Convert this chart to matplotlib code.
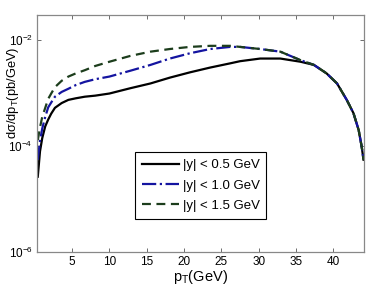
import matplotlib
matplotlib.use('Agg')
import matplotlib.pyplot as plt
import numpy as np
from matplotlib.ticker import FixedLocator, LogFormatterSciNotation, NullLocator

plt.rcParams['font.family'] = ['Liberation Sans', 'DejaVu Sans']
plt.rcParams['mathtext.fontset'] = 'custom'
plt.rcParams['mathtext.rm'] = 'Liberation Sans'
plt.rcParams['mathtext.it'] = 'Liberation Sans:italic'
plt.rcParams['mathtext.default'] = 'regular'

# data (log10 of dsigma/dpT, pb/GeV)
pt = [0.4, 0.7, 1.0, 1.4, 1.8, 2.2, 2.7, 3.6, 4.5, 5.5, 6.7, 8.1, 10.0, 12.8, 15.5,
      18.1, 20.8, 23.5, 26.2, 27.5, 30.2, 32.9, 35.6, 37.4, 39.1, 40.5, 41.8, 42.7,
      43.4, 43.8, 44.05]
log_y05 = [-4.58, -4.10, -3.85, -3.63, -3.50, -3.39, -3.28, -3.19, -3.13, -3.10, -3.07,
           -3.05, -3.01, -2.91, -2.82, -2.71, -2.61, -2.52, -2.44, -2.40, -2.35, -2.35,
           -2.41, -2.47, -2.63, -2.82, -3.13, -3.38, -3.70, -4.01, -4.26]
log_y10 = [-4.26, -3.90, -3.67, -3.45, -3.27, -3.18, -3.07, -2.98, -2.92, -2.85, -2.79,
           -2.74, -2.69, -2.58, -2.47, -2.35, -2.25, -2.17, -2.13, -2.13, -2.17, -2.22,
           -2.38, -2.47, -2.63, -2.82, -3.13, -3.38, -3.70, -4.01, -4.26]
log_y15 = [-3.89, -3.65, -3.45, -3.28, -3.11, -3.01, -2.89, -2.77, -2.69, -2.63, -2.57,
           -2.49, -2.41, -2.30, -2.22, -2.17, -2.13, -2.11, -2.11, -2.13, -2.17, -2.22,
           -2.38, -2.47, -2.63, -2.82, -3.13, -3.38, -3.70, -4.01, -4.26]

labels = ['|y| < 0.5 GeV', '|y| < 1.0 GeV', '|y| < 1.5 GeV']
xticks = [5, 10, 15, 20, 25, 30, 35, 40]
yticks = [1e-6, 1e-4, 1e-2]

fig = plt.figure(figsize=(3.74, 2.94), dpi=100)
ax = fig.add_axes([0.099, 0.143, 0.874, 0.806])

ax.plot(pt, 10**np.array(log_y05), color='black', lw=1.6, ls='-', label=labels[0])
ax.plot(pt, 10**np.array(log_y10), color='#1414a0', lw=1.6, ls='-.', label=labels[1])
ax.plot(pt, 10**np.array(log_y15), color='#1c3d1c', lw=1.6, ls=(0, (4, 2.5)), label=labels[2])

ax.set_yscale('log')
ax.set_xlim(0.3, 44.1)
ax.set_ylim(1e-6, 10**-1.528)
ax.xaxis.set_major_locator(FixedLocator(xticks))
ax.yaxis.set_major_locator(FixedLocator(yticks))
ax.yaxis.set_major_formatter(LogFormatterSciNotation())
ax.yaxis.set_minor_locator(NullLocator())
ax.tick_params(direction='in', top=True, right=True, labelsize=8.5, length=3, width=0.6,
               color='#555555', pad=3)

for s in ax.spines.values():
    s.set_color('#888888')
    s.set_linewidth(0.9)

ax.set_xlabel('p$_T$(GeV)', fontsize=10.5, labelpad=0)
ax.set_ylabel(r'd$\sigma$/dp$_T$(pb/GeV)', fontsize=9.3)
ax.yaxis.set_label_coords(-0.05, 0.67)

leg = ax.legend(loc='upper left', bbox_to_anchor=(0.30, 0.42), borderaxespad=0,
                fontsize=9.5, fancybox=False, framealpha=1, edgecolor='black',
                handlelength=2.8, handletextpad=0.3, borderpad=0.5, labelspacing=0.62)
leg.get_frame().set_linewidth(0.8)

fig.savefig('out.png', dpi=100)
